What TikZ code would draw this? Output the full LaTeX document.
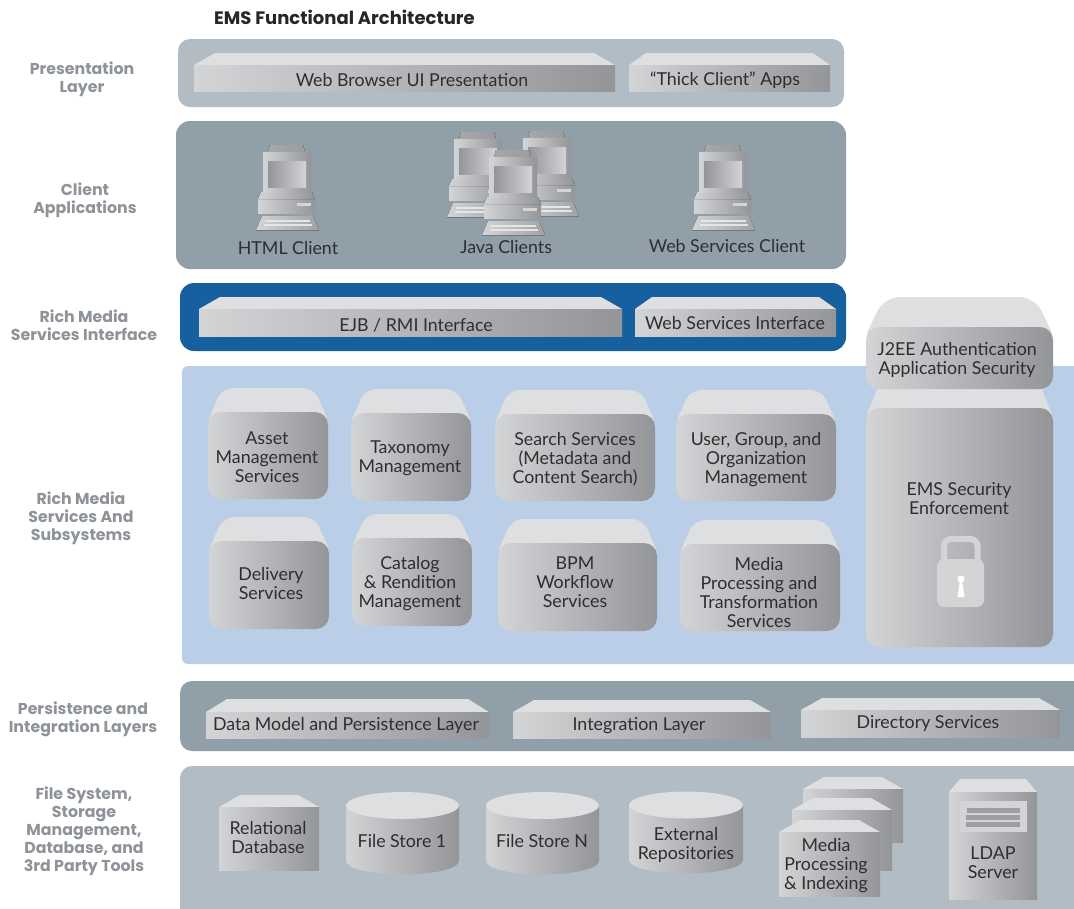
\documentclass[tikz,border=0pt]{standalone}
\usepackage{fontspec}
\setmainfont{Lato}
\newfontfamily\headfont{Poppins}
\definecolor{palelayer}{HTML}{B1BCC4}
\definecolor{darklayer}{HTML}{919FA9}
\definecolor{bluelayer}{HTML}{1660A0}
\definecolor{skylayer}{HTML}{BBCEE8}
\definecolor{gl}{HTML}{D3D4D6}
\definecolor{gr}{HTML}{939598}
\definecolor{topc}{HTML}{DDDFE1}
\definecolor{txt}{HTML}{2E2E30}
\definecolor{lab}{HTML}{8D9399}
\tikzset{
 layer/.style={rounded corners=12pt,draw=none},
 front/.style={left color=gl,right color=gr,draw=none},
 topface/.style={fill=topc,draw=none},
 body/.style={text=txt,align=center,font=\fontsize{17.8}{19}\selectfont,inner sep=0pt},
 lefttitle/.style={text=lab,align=center,font=\headfont\fontsize{15.8}{18}\selectfont\bfseries,inner sep=0pt},
}
% square slab: x1,x2,ytop,yfront,ybot,inset
\newcommand{\slab}[6]{%
 \fill[topface] (#1,#4)--(#1+#6,#3)--(#2-#6,#3)--(#2,#4)--cycle;
 \path[front] (#1,#4) rectangle (#2,#5);}
% rounded block: x1,x2,ytop,yfront,ybot,inset,corner
\newcommand{\rblock}[7]{%
 \fill[topface] (#1+1,#4+6) [rounded corners=#7pt] -- (#1+#6,#3) -- (#2-#6,#3) [sharp corners] -- (#2-1,#4+6) -- cycle;
 \path[front,rounded corners=13pt] (#1,#4) rectangle (#2,#5);}
% computer with origin at monitor's top-left corner of the cap
\newcommand{\pc}[2]{%
 \begin{scope}[shift={(#1,#2)}]
  \fill[left color=gl,right color=gr!80!gl] (-7,85)--(56,85)--(50,71)--(-1,71)--cycle;
  \fill[gr!70!black!90] (-7,85) rectangle (56,85.8);
  \fill[left color=gl,right color=gr] (-5,68) rectangle (52,54);
  \fill[left color=gl,right color=gr] (-5,54)--(52,54)--(49,47)--(-2,47)--cycle;
  \fill[left color=gr!70!gl,right color=gr!90!gl] (7,0)--(40,0)--(42,7)--(5,7)--cycle;
  \fill[left color=gl,right color=gr] (0,7) rectangle (48,47);
  \fill[left color=gr,right color=gl] (5,16) rectangle (43,42);
  \fill[gl] (34,58) rectangle (48,61);
  \fill[gl!60!white] (2,75) rectangle (47,77);
  \fill[gl!60!white] (1,79) rectangle (49,81);
 \end{scope}}
\begin{document}
\begin{tikzpicture}[x=1pt,y=-1pt]
\useasboundingbox (0,0) rectangle (1074,908);
\fill[white] (0,0) rectangle (1074,908);
% layers
\fill[layer,palelayer] (178,39) rectangle (844,107);
\fill[layer,darklayer,rounded corners=14pt] (176,121) rectangle (846,269);
\fill[layer,bluelayer,rounded corners=14pt] (180,283) rectangle (846,351);
\fill[layer,skylayer,rounded corners=6pt] (182,366) rectangle (1090,664);
\fill[layer,darklayer] (180,681) rectangle (1090,751);
\fill[layer,palelayer] (180,766) rectangle (1090,920);
% title and left labels
\node[text=black!85,font=\headfont\fontsize{18}{20}\selectfont\bfseries,inner sep=0pt,anchor=west] (title) at (214,17) {EMS Functional Architecture};
\node[lefttitle] (l1) at (82,79.5) {Presentation\\Layer};
\node[lefttitle] (l2) at (85,200.5) {Client\\Applications};
\node[lefttitle] (l3) at (84,325) {Rich Media\\Services Interface};
\node[lefttitle] (l4) at (81,518.5) {Rich Media\\Services And\\Subsystems};
\node[lefttitle] (l5) at (83,719.5) {Persistence and\\Integration Layers};
\node[lefttitle] (l6) at (84,831.5) {File System,\\Storage\\Management,\\Database, and\\3rd Party Tools};
% slabs
\slab{194}{615}{53}{65}{91}{21}
\node[body] (web) at (412,80) {Web Browser UI Presentation};
\slab{629}{830}{53}{65}{91}{17}
\node[body] (thick) at (725,80) {“Thick Client” Apps};
\slab{199}{622}{297}{309}{336}{21}
\node[body] (ejb) at (416,325) {EJB / RMI Interface};
\slab{635}{836}{297}{309}{336}{17}
\node[body] (wsi) at (735,323) {Web Services Interface};
\slab{206}{489}{699}{712}{738}{21}
\node[body] (dm) at (346,725) {Data Model and Persistence Layer};
\slab{513}{771}{700}{712}{738}{21}
\node[body] (il) at (639,726) {Integration Layer};
\slab{801}{1060}{698}{710}{737}{21}
\node[body] (ds) at (928,723.5) {Directory Services};
% computers
\pc{263}{145}\node[body] (c1) at (288,248) {HTML Client};
\pc{454}{132}\pc{523}{131}\pc{489}{150}\node[body] (c2) at (506,247) {Java Clients};
\pc{699}{145}\node[body] (c3) at (727,246) {Web Services Client};
% service blocks
\rblock{208}{328}{388}{412}{499}{14}{11}
\node[body] (s1) at (267,457) {Asset\\Management\\Services};
\rblock{351}{471}{389}{413}{501}{14}{11}
\node[body] (s2) at (410,458) {Taxonomy\\Management};
\rblock{495}{655}{390}{414}{501}{14}{11}
\node[body] (s3) at (575,459) {Search Services\\(Metadata and\\Content Search)};
\rblock{676}{836}{390}{414}{501}{14}{11}
\node[body] (s4) at (756,460) {User, Group, and\\Organization\\Management};
\rblock{209}{329}{517}{541}{629}{14}{11}
\node[body] (s5) at (271,583.5) {Delivery\\Services};
\rblock{352}{472}{514}{538}{626}{14}{11}
\node[body] (s6) at (410,584) {Catalog\\\& Rendition\\Management};
\rblock{498}{657}{519}{543}{631}{14}{11}
\node[body] (s7) at (575,582) {BPM\\Workflow\\Services};
\rblock{680}{840}{520}{544}{631}{14}{11}
\node[body] (s8) at (759,593) {Media\\Processing and\\Transformation\\Services};
% security
\rblock{866}{1053}{380}{408}{647}{15}{6}
\node[body] (ems) at (959,499) {EMS Security\\Enforcement};
\rblock{866}{1053}{297}{327}{389}{18}{16}
\node[body] (j2ee) at (957,360) {J2EE Authentication\\Application Security};
% lock
\draw[gl,line width=6pt,line join=round,rounded corners=7pt] (944,562)--(944,539)--(977.5,539)--(977.5,562);
\fill[gl,rounded corners=7pt] (937,559) rectangle (984,607);
\fill[white] (961,579) circle (3.5);
\fill[white] (960,580)--(962,580)--(964.5,597)--(957.5,597)--cycle;
% storage
\slab{219}{319}{795}{807}{870}{21}
\node[body] (db) at (268,837.5) {Relational\\Database};
\newcommand{\cyl}[5]{% x1,x2,ycentre top,ry,ycentre bottom
 \path[front] (#1,#3) -- (#1,#5) arc[x radius={(#2-#1)/2},y radius=#4,start angle=180,end angle=0] -- (#2,#3) -- cycle;
 \fill[topface] ({(#1+#2)/2},#3) ellipse[x radius={(#2-#1)/2},y radius=#4];}
\cyl{346}{459}{805.5}{13.5}{861}
\node[body] (fs1) at (402,841) {File Store 1};
\cyl{486}{599}{805.5}{13.5}{861}
\node[body] (fsn) at (542,841) {File Store N};
\cyl{629}{743}{805}{13.5}{860}
\node[body] (ext) at (686,844.5) {External\\Repositories};
\slab{803}{903}{777}{789}{842}{21}
\slab{792}{892}{798}{810}{870}{21}
\slab{779}{880}{820}{832}{896}{21}
\node[body] (mp) at (826,865.5) {Media\\Processing\\\& Indexing};
\slab{949}{1037}{779}{792}{899}{11}
\fill[gl] (960,801) rectangle (1027,832);
\fill[gr!85!gl] (967,808) rectangle (1020,813);
\fill[gr!85!gl] (966,815) rectangle (1020,820);
\fill[gr!85!gl] (966,822) rectangle (1020,827);
\node[body] (ldap) at (993,863) {LDAP\\Server};
\end{tikzpicture}
\end{document}
